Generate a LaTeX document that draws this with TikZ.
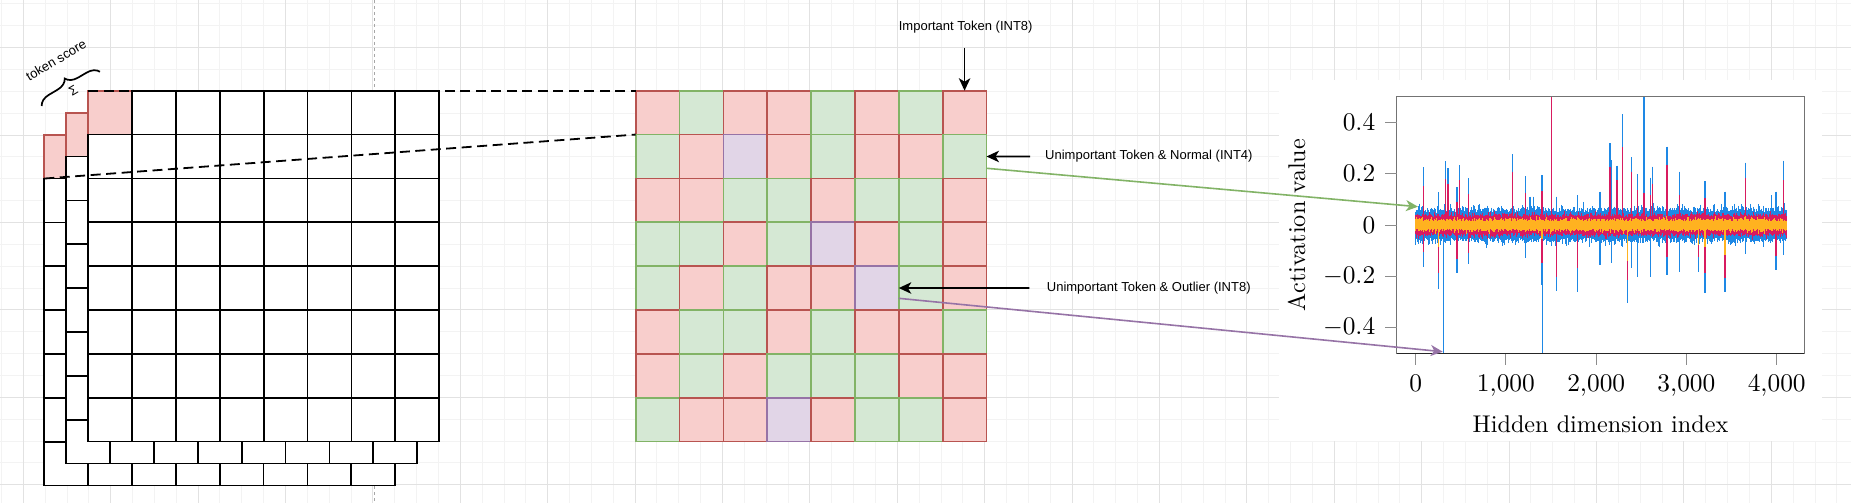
\documentclass[tikz,border=0pt]{standalone}
\usepackage{fontspec}
\newfontfamily\arialf{Liberation Sans}
\usetikzlibrary{arrows.meta,decorations.pathreplacing}
\definecolor{Rline}{HTML}{B85450}
\definecolor{Rfill}{HTML}{F8CECC}
\definecolor{Gline}{HTML}{82B366}
\definecolor{Gfill}{HTML}{D5E8D4}
\definecolor{Pline}{HTML}{9673A6}
\definecolor{Pfill}{HTML}{E1D5E7}
\definecolor{gridminor}{HTML}{F3F3F3}
\definecolor{gridmajor}{HTML}{E2E2E2}
\definecolor{sblue}{RGB}{30,136,229}
\definecolor{sred}{RGB}{216,27,96}
\definecolor{syel}{RGB}{255,178,32}
\begin{document}
\begin{tikzpicture}[x=1pt,y=-1pt,
  lbl/.style={font=\arialf\fontsize{13}{15}\selectfont, inner sep=0pt, text=black},
  axlbl/.style={inner sep=0pt, font=\fontsize{10}{12}\selectfont},
  gcell/.style={rectangle, draw=#1line, fill=#1fill, line width=1.8pt, minimum width=43.85pt, minimum height=43.85pt, inner sep=0pt, outer sep=0pt, anchor=north west},
  scell/.style={draw=black, fill=white, line width=1.8pt},
  pcell/.style={draw=Rline, fill=Rfill, line width=1.8pt},
  dashline/.style={draw=black, line width=1.8pt, dash pattern=on 10pt off 5.5pt},
  barrow/.style={draw=black, line width=1.6pt, -{Stealth[length=12.5pt,width=11.5pt,inset=3.5pt]}},
  garrow/.style={draw=Gline, line width=1.6pt, -{Stealth[length=12pt,width=11pt,inset=3.5pt]}},
  parrow/.style={draw=Pline, line width=1.6pt, -{Stealth[length=12pt,width=11pt,inset=3.5pt]}},
  gridmin/.style={draw=gridminor, line width=1pt},
  gridmaj/.style={draw=gridmajor, line width=1pt},
  spike/.style={line width=1.3pt},
  tickmark/.style={draw=black!45, line width=1pt},
]
\useasboundingbox (0,0) rectangle (1851,503);
\fill[white] (0,0) rectangle (1851,503);
% background grid
\foreach \i in {0,...,84} { \draw[gridmin] ({1.45+\i*21.85},0) -- ++(0,503); }
\foreach \j in {0,...,22} { \draw[gridmin] (0,{4.0+\j*21.85}) -- ++(1851,0); }
\foreach \i in {0,...,20} { \draw[gridmaj] ({23.3+\i*87.4},0) -- ++(0,503); }
\foreach \j in {0,...,5} { \draw[gridmaj] (0,{47.7+\j*87.4}) -- ++(1851,0); }
% guide line
\coordinate (gl1) at (374,0);
\coordinate (gl2) at (374,503);
\draw[draw=black!35, line width=1pt, dash pattern=on 3pt off 3pt] (gl1) -- (gl2);
% stacked token layers
\foreach \ox/\oy in {44.3/134.7,66.3/112.7,88.3/90.7} {
  \draw[pcell] (\ox,\oy) rectangle ++(43.85,43.85);
  \foreach \r in {0,...,7} { \foreach \k in {0,...,7} {
    \ifnum\numexpr\r+\k\relax>0
      \draw[scell] ({\ox+\k*43.85},{\oy+\r*43.85}) rectangle ++(43.85,43.85);
    \fi
  }}
}
% coloured grid
\foreach \rowlist [count=\r] in {{R,G,R,R,G,R,G,R},{G,R,P,R,G,R,R,G},{R,R,G,G,R,G,G,R},{G,G,R,G,P,R,G,R},{G,R,G,R,R,P,G,R},{R,G,G,R,G,R,R,G},{R,G,R,G,G,G,R,R},{G,R,R,P,R,G,G,R}} {
  \foreach \cc [count=\k] in \rowlist {
    \node[gcell=\cc] (g-\r-\k) at ({635.7+(\k-1)*43.85},{90.7+(\r-1)*43.85}) {};
  }
}
% dashed projection lines
\coordinate (fTL) at (88.3,90.7);
\coordinate (bPk) at (44.3,178.55);
\draw[dashline] (fTL) -- (g-1-1.north west);
\draw[dashline] (bPk) -- (g-2-1.north west);
% brace and token score
\coordinate (bA) at (41.7,106);
\coordinate (bB) at (100,71.7);
\draw[line width=1.7pt, decorate, decoration={brace, amplitude=12pt}] (bA) -- (bB);
\node[lbl, rotate=30.5] (ts) at (56,60) {token score};
\node[lbl, rotate=30.5] (sig) at (73.3,91) {Σ};
% labels
\node[lbl] (imp) at (965.7,26.7) {Important Token (INT8)};
\node[lbl, anchor=west] (norm) at (1045,156.5) {Unimportant Token \& Normal (INT4)};
\node[lbl, anchor=west] (outl) at (1046.7,288.0) {Unimportant Token \& Outlier (INT8)};
% plot
\fill[white] (1279,80) rectangle (1822,441);
\pgfmathsetseed{7}
\draw[sblue, line width=1pt] \foreach \i in {0,...,463} { ({1415.7+0.8*\i},{212.5-5*rnd-6*rnd^6}) -- ({1415.7+0.8*\i},{237.5+5*rnd+6*rnd^6}) };
\begin{scope}[shift={(1380,80)}, x=0.33333pt, y=-0.33333pt]
\foreach \xx/\ya/\yb in {131/262/560, 175/337/627, 190/400/818, 197/243/470, 204/265/470, 231/322/580, 238/255/470, 265/295/553, 397/222/470, 436/288/535, 450/350/470, 460/350/470, 486/285/615, 488/400/818, 515/50/470, 530/350/633, 592/345/635, 660/335/555, 690/190/470, 694/240/550, 711/257/470, 728/102/470, 742/400/668, 754/232/565, 773/282/592, 792/50/470, 812/293/590, 817/260/470, 861/200/585, 898/275/575, 955/400/575, 975/303/640, 1035/335/635, 1097/248/522, 1175/345/470, 1188/335/570, 1210/242/525}
  { \draw[sblue, spike] (\xx,\ya) -- (\xx,\yb); }
\end{scope}
\draw[sred, line width=1pt] \foreach \i in {0,...,463} { ({1415.7+0.8*\i},{217-3*rnd-4*rnd^6}) -- ({1415.7+0.8*\i},{233+3*rnd+4*rnd^6}) };
\begin{scope}[shift={(1380,80)}, x=0.33333pt, y=-0.33333pt]
\foreach \xx/\ya/\yb in {131/318/515, 175/420/580, 197/297/450, 204/313/450, 231/365/537, 238/300/450, 265/342/520, 397/275/450, 436/340/450, 486/333/550, 515/52/450, 530/420/590, 592/420/565, 690/262/450, 711/300/450, 728/202/450, 742/420/600, 754/275/450, 773/330/450, 792/340/450, 812/345/450, 817/312/450, 861/255/530, 898/345/450, 955/420/530, 975/355/580, 1035/420/595, 1097/293/450, 1188/420/528, 1210/300/450}
  { \draw[sred, spike] (\xx,\ya) -- (\xx,\yb); }
\end{scope}
\draw[syel, line width=1pt] \foreach \i in {0,...,463} { ({1415.7+0.8*\i},{221.5-3*rnd-3*rnd^6}) -- ({1415.7+0.8*\i},{228.5+3*rnd+3*rnd^6}) };
\begin{scope}[shift={(1380,80)}, x=0.33333pt, y=-0.33333pt]
\foreach \xx/\ya/\yb in {175/430/500, 486/430/478, 742/430/543, 955/430/495, 975/430/500, 1035/430/525}
  { \draw[syel, spike] (\xx,\ya) -- (\xx,\yb); }
\end{scope}
% axes frame and ticks
\draw[draw=black!55, line width=1.2pt] (1396.7,96.7) rectangle (1804.4,353.3);
\draw[draw=black!85, line width=1.2pt] (1396.7,353.3) -- (1804.4,353.3);
\foreach \yy in {122.3,173.65,225,276.35,327.7} { \draw[tickmark] (1385,\yy) -- (1396.7,\yy); }
\foreach \xx in {1415.7,1505.9,1596.2,1686.4,1776.7} { \draw[tickmark] (\xx,353.9) -- (\xx,364.5); }
\node[axlbl, scale=2.54, anchor=east] (y1) at (1375.7,122.3) {$0.4$};
\node[axlbl, scale=2.54, anchor=east] (y2) at (1375.7,173.65) {$0.2$};
\node[axlbl, scale=2.54, anchor=east] (y3) at (1375.7,225) {$0$};
\node[axlbl, scale=2.54, anchor=east] (y4) at (1375.7,276.35) {$-0.2$};
\node[axlbl, scale=2.54, anchor=east] (y5) at (1375.7,327.7) {$-0.4$};
\node[axlbl, scale=2.54, anchor=base] (x1) at (1415.7,391.7) {0};
\node[axlbl, scale=2.54, anchor=base] (x2) at (1505.9,391.7) {1,000};
\node[axlbl, scale=2.54, anchor=base] (x3) at (1596.2,391.7) {2,000};
\node[axlbl, scale=2.54, anchor=base] (x4) at (1686.4,391.7) {3,000};
\node[axlbl, scale=2.54, anchor=base] (x5) at (1776.7,391.7) {4,000};
\node[axlbl, scale=2.42, anchor=base] (xlab) at (1600.5,432.7) {Hidden dimension index};
\node[axlbl, scale=2.42, anchor=base, rotate=90] (ylab) at (1305,225) {Activation value};
\coordinate (inl) at (1418,206.7);
\coordinate (outp) at (1442.7,351.7);
% arrows
\draw[barrow, shorten <=15pt] (imp.south -| g-1-8.north) -- (g-1-8.north);
\draw[barrow, shorten <=15pt] (norm.west) -- (g-2-8.east);
\draw[barrow, shorten <=17.4pt] (outl.west) -- (g-5-6.east);
\draw[garrow] ([yshift=-11.8pt]g-2-8.east) -- (inl);
\draw[parrow] ([yshift=-10.3pt]g-5-6.east) -- (outp);
\end{tikzpicture}
\end{document}
